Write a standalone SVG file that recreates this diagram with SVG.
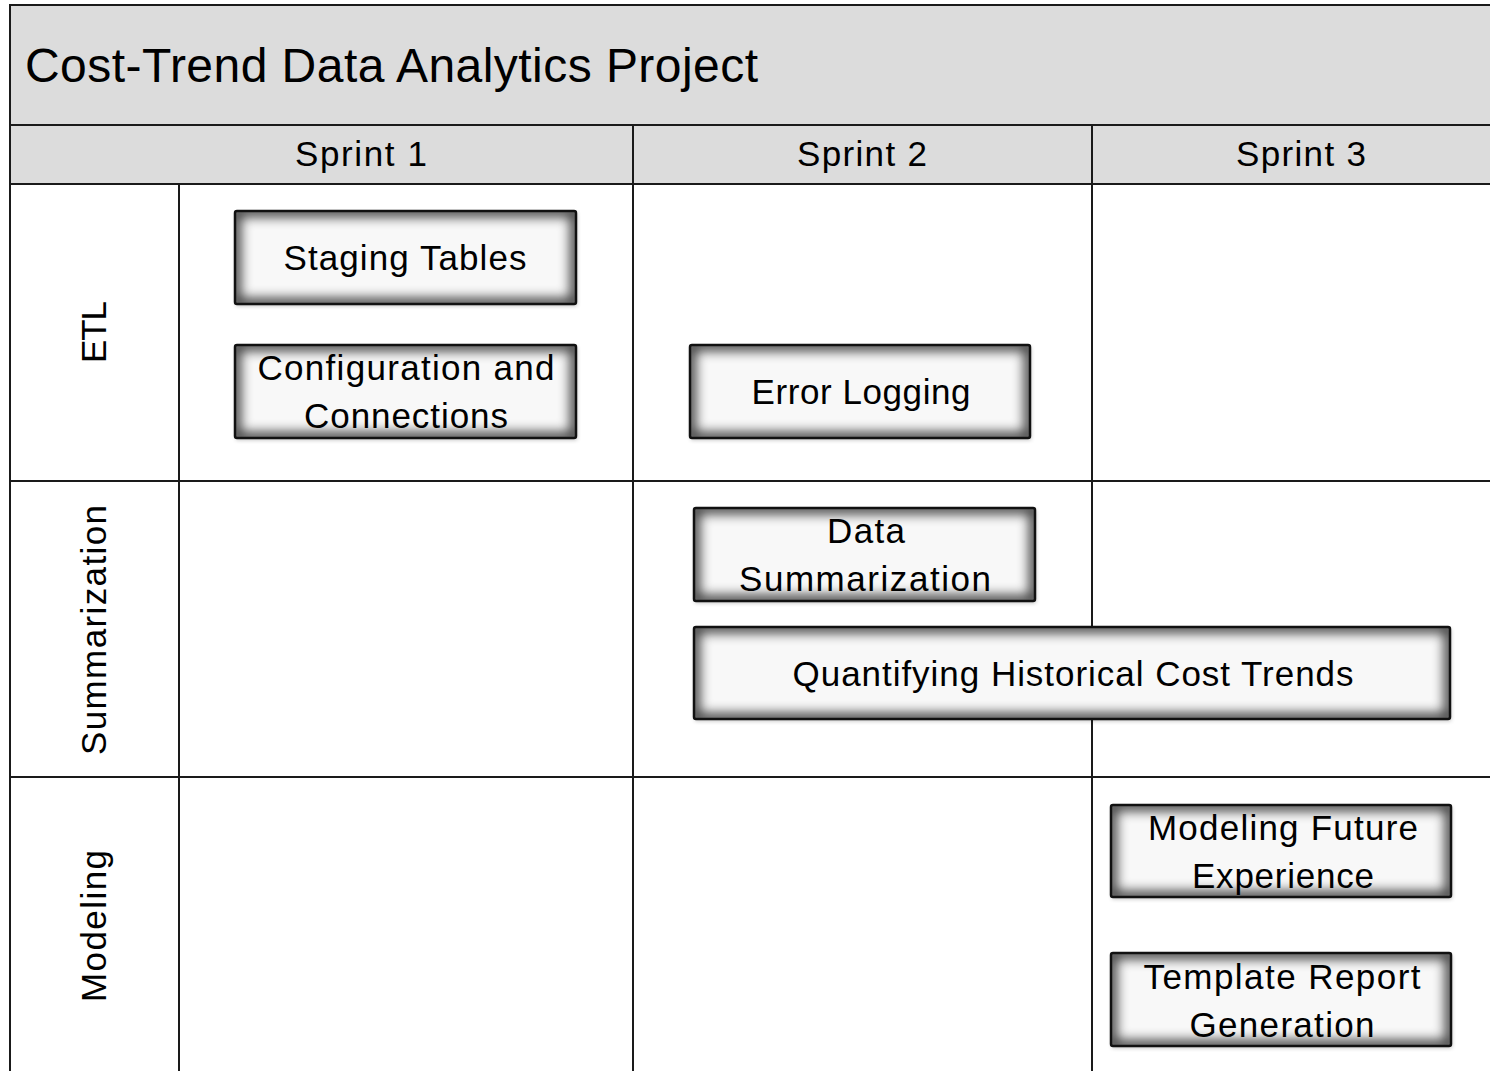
<svg xmlns="http://www.w3.org/2000/svg" width="1490" height="1071" viewBox="0 0 1490 1071">
<defs>
<filter id="blur" x="-20%" y="-40%" width="140%" height="180%">
<feGaussianBlur stdDeviation="6"/>
</filter>
<filter id="drop" x="-10%" y="-20%" width="120%" height="140%">
<feGaussianBlur stdDeviation="2"/>
</filter>
<clipPath id="bb" clipPathUnits="objectBoundingBox"><rect x="0" y="0" width="1" height="1"/></clipPath>
</defs>
<style>
text{font-family:"Liberation Sans","DejaVu Sans",sans-serif;fill:#000}
.title{font-size:48px}
.hdr{font-size:35px;text-anchor:middle}
.lane{font-size:35px;text-anchor:middle}
.t{font-size:35px;text-anchor:middle}
.grid{stroke:#1a1a1a;stroke-width:2;fill:none}
.box .sh{fill:#000;opacity:0.25}
.box .bg{fill:#f8f8f8}
.box .gl{fill:none;stroke:#000;stroke-width:12;opacity:0.75}
.box .bd{fill:none;stroke:#111;stroke-width:2.5}
</style>
<rect x="0" y="0" width="1490" height="1071" fill="#fff"/>
<g id="frame">
<rect x="10" y="5" width="1490" height="120" fill="#dcdcdc"/>
<rect x="10" y="125" width="1490" height="59" fill="#dcdcdc"/>
<path class="grid" d="M10 1071V5H1492M10 125H1492M10 184H1492M10 481H1492M10 777H1492M179 184V1071M633 125V1071M1092 125V1071"/>
</g>
<g id="title"><text class="title" x="25" y="82" textLength="733">Cost-Trend Data Analytics Project</text></g>
<g id="sprint1"><text class="hdr" x="361" y="166" textLength="132">Sprint 1</text></g>
<g id="sprint2"><text class="hdr" x="862" y="166" textLength="130">Sprint 2</text></g>
<g id="sprint3"><text class="hdr" x="1301" y="166" textLength="130">Sprint 3</text></g>
<g id="lane-etl"><text class="lane" transform="translate(106 332) rotate(-90)" textLength="62">ETL</text></g>
<g id="lane-summarization"><text class="lane" transform="translate(106 630) rotate(-90)" textLength="250">Summarization</text></g>
<g id="lane-modeling"><text class="lane" transform="translate(106 926) rotate(-90)" textLength="152">Modeling</text></g>
<g id="staging-tables" class="box"><rect class="sh" x="236" y="213" width="341" height="93" filter="url(#drop)"/><rect class="bg" x="235" y="211" width="341" height="93"/><rect class="gl" x="235" y="211" width="341" height="93" filter="url(#blur)" clip-path="url(#bb)"/><rect class="bd" x="235" y="211" width="341" height="93" rx="2"/><text class="t" x="405" y="270" textLength="243">Staging Tables</text></g>
<g id="configuration" class="box"><rect class="sh" x="236" y="347" width="341" height="93" filter="url(#drop)"/><rect class="bg" x="235" y="345" width="341" height="93"/><rect class="gl" x="235" y="345" width="341" height="93" filter="url(#blur)" clip-path="url(#bb)"/><rect class="bd" x="235" y="345" width="341" height="93" rx="2"/><text class="t" x="406" y="380" textLength="297">Configuration and</text><text class="t" x="406" y="428" textLength="204">Connections</text></g>
<g id="error-logging" class="box"><rect class="sh" x="691" y="347" width="340" height="93" filter="url(#drop)"/><rect class="bg" x="690" y="345" width="340" height="93"/><rect class="gl" x="690" y="345" width="340" height="93" filter="url(#blur)" clip-path="url(#bb)"/><rect class="bd" x="690" y="345" width="340" height="93" rx="2"/><text class="t" x="861" y="404" textLength="219">Error Logging</text></g>
<g id="data-summarization" class="box"><rect class="sh" x="695" y="510" width="341" height="93" filter="url(#drop)"/><rect class="bg" x="694" y="508" width="341" height="93"/><rect class="gl" x="694" y="508" width="341" height="93" filter="url(#blur)" clip-path="url(#bb)"/><rect class="bd" x="694" y="508" width="341" height="93" rx="2"/><text class="t" x="866" y="543" textLength="78">Data</text><text class="t" x="865" y="591" textLength="252">Summarization</text></g>
<g id="quantifying" class="box"><rect class="sh" x="695" y="629" width="756" height="92" filter="url(#drop)"/><rect class="bg" x="694" y="627" width="756" height="92"/><rect class="gl" x="694" y="627" width="756" height="92" filter="url(#blur)" clip-path="url(#bb)"/><rect class="bd" x="694" y="627" width="756" height="92" rx="2"/><text class="t" x="1073" y="686" textLength="561">Quantifying Historical Cost Trends</text></g>
<g id="modeling-future" class="box"><rect class="sh" x="1112" y="807" width="340" height="92" filter="url(#drop)"/><rect class="bg" x="1111" y="805" width="340" height="92"/><rect class="gl" x="1111" y="805" width="340" height="92" filter="url(#blur)" clip-path="url(#bb)"/><rect class="bd" x="1111" y="805" width="340" height="92" rx="2"/><text class="t" x="1283" y="840" textLength="270">Modeling Future</text><text class="t" x="1283" y="888" textLength="182">Experience</text></g>
<g id="template-report" class="box"><rect class="sh" x="1112" y="955" width="340" height="93" filter="url(#drop)"/><rect class="bg" x="1111" y="953" width="340" height="93"/><rect class="gl" x="1111" y="953" width="340" height="93" filter="url(#blur)" clip-path="url(#bb)"/><rect class="bd" x="1111" y="953" width="340" height="93" rx="2"/><text class="t" x="1282" y="989" textLength="277">Template Report</text><text class="t" x="1282" y="1037" textLength="185">Generation</text></g>
<g id="connectors"></g>
</svg>
